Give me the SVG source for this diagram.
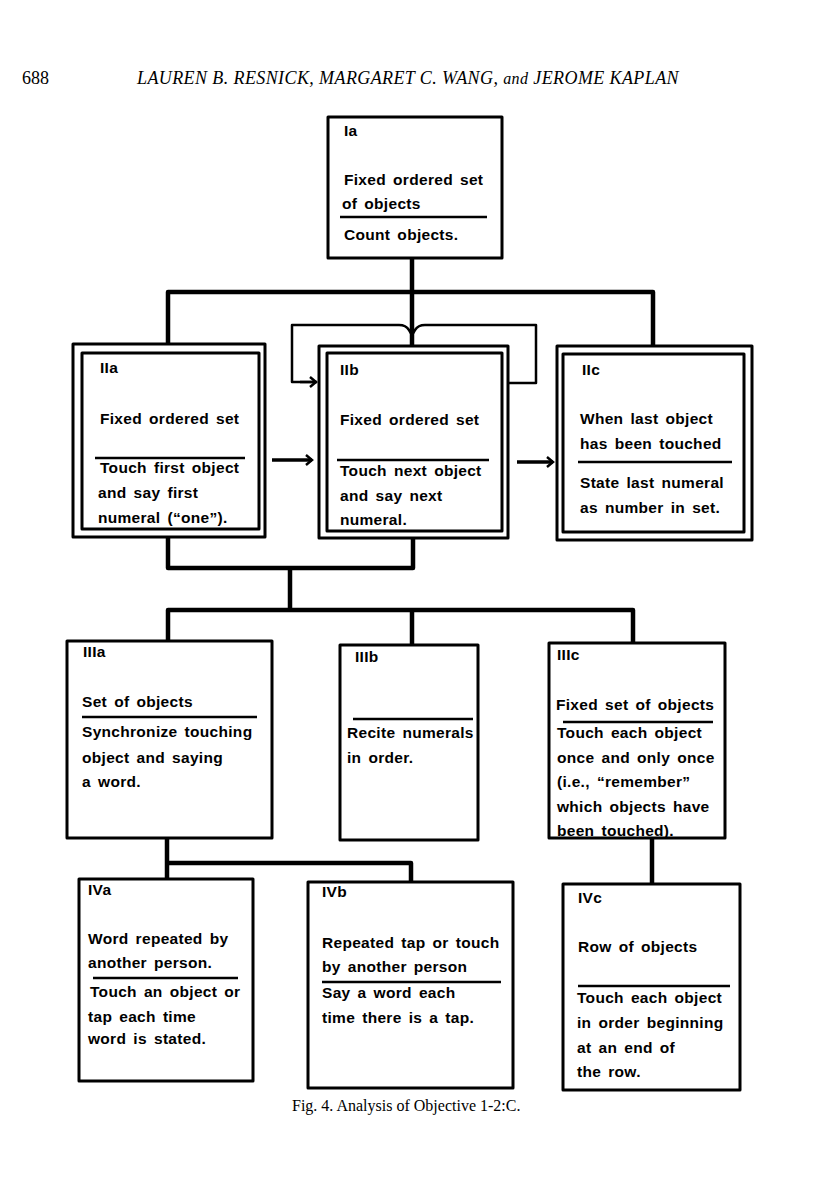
<svg xmlns="http://www.w3.org/2000/svg" width="816" height="1195" viewBox="0 0 816 1195">
<defs>
<style>
.box{fill:#fff;stroke:#000;stroke-width:3;stroke-linejoin:round}
.in{fill:none;stroke:#000;stroke-width:3;stroke-linejoin:round}
.div{stroke:#000;stroke-width:2.5}
.t{font-family:"Liberation Sans",Arial,sans-serif;font-weight:bold;font-size:15.5px;letter-spacing:0.3px;word-spacing:2.5px;fill:#000}
.con{fill:none;stroke:#000;stroke-width:4.5;stroke-linejoin:round}
.loop{fill:none;stroke:#000;stroke-width:2.5;stroke-linejoin:round}
.arr{fill:none;stroke:#000;stroke-width:3.5}
.hdr{font-family:"Liberation Serif","Times New Roman",serif;font-size:18px;fill:#000}
.cap{font-family:"Liberation Serif","Times New Roman",serif;font-size:16px;fill:#000}
</style>
<marker id="ah" viewBox="0 0 10 12" refX="8" refY="6" markerWidth="10" markerHeight="12" markerUnits="userSpaceOnUse" orient="auto">
<path d="M2,1 L8,6 L2,11" fill="none" stroke="#000" stroke-width="2.5"/>
</marker>
</defs>
<rect width="816" height="1195" fill="#fff"/>
<text class="hdr" x="22" y="84">688</text>
<text class="hdr" x="137" y="84" font-style="italic" letter-spacing="0.4">LAUREN B. RESNICK, MARGARET C. WANG, <tspan font-size="16">and</tspan> JEROME KAPLAN</text>

<g id="connectors">
<path class="con" d="M412,258 V346"/>
<path class="con" d="M168,345 V292 H653 V346"/>
<path class="loop" d="M317,382 H292 V325 H399 Q406,325 409,330 L412,335 L415,330 Q418,325 425,325 H536 V383 H508"/>
<path class="loop" d="M300,382 H316" marker-end="url(#ah)"/>
<path class="arr" d="M272,460 H312" marker-end="url(#ah)"/>
<path class="arr" d="M517,462 H553" marker-end="url(#ah)"/>
<path class="con" d="M168,537 V568 H413 V538"/>
<path class="con" d="M290,568 V610"/>
<path class="con" d="M168,641 V610 H633 V643"/>
<path class="con" d="M412,610 V645"/>
<path class="con" d="M167,838 V879"/>
<path class="con" d="M167,863 H411 V882"/>
<path class="con" d="M652,838 V884"/>
</g>

<g id="Ia">
<rect class="box" x="328" y="117" width="174" height="141"/>
<text class="t" x="344" y="136">Ia</text>
<text class="t" x="344" y="185">Fixed ordered set</text>
<text class="t" x="342" y="209">of objects</text>
<line class="div" x1="340" y1="217" x2="487" y2="217"/>
<text class="t" x="344" y="240">Count objects.</text>
</g>

<g id="IIa">
<rect class="box" x="73" y="344" width="192" height="193"/>
<rect class="in" x="82" y="353" width="177" height="176"/>
<text class="t" x="100" y="373">IIa</text>
<text class="t" x="100" y="424">Fixed ordered set</text>
<line class="div" x1="95" y1="458" x2="245" y2="458"/>
<text class="t" x="100" y="473">Touch first object</text>
<text class="t" x="98" y="498">and say first</text>
<text class="t" x="98" y="523">numeral (“one”).</text>
</g>

<g id="IIb">
<rect class="box" x="319" y="346" width="189" height="192"/>
<rect class="in" x="327" y="353" width="175" height="178"/>
<text class="t" x="340" y="375">IIb</text>
<text class="t" x="340" y="425">Fixed ordered set</text>
<line class="div" x1="337" y1="460" x2="489" y2="460"/>
<text class="t" x="340" y="476">Touch next object</text>
<text class="t" x="340" y="501">and say next</text>
<text class="t" x="340" y="525">numeral.</text>
</g>

<g id="IIc">
<rect class="box" x="557" y="346" width="195" height="194"/>
<rect class="in" x="563" y="354" width="181" height="178"/>
<text class="t" x="582" y="375">IIc</text>
<text class="t" x="580" y="424">When last object</text>
<text class="t" x="580" y="449">has been touched</text>
<line class="div" x1="578" y1="462" x2="732" y2="462"/>
<text class="t" x="580" y="488">State last numeral</text>
<text class="t" x="580" y="513">as number in set.</text>
</g>

<g id="IIIa">
<rect class="box" x="67" y="641" width="205" height="197"/>
<text class="t" x="83" y="657">IIIa</text>
<text class="t" x="82" y="707">Set of objects</text>
<line class="div" x1="82" y1="717" x2="257" y2="717"/>
<text class="t" x="82" y="737">Synchronize touching</text>
<text class="t" x="82" y="763">object and saying</text>
<text class="t" x="82" y="787">a word.</text>
</g>

<g id="IIIb">
<rect class="box" x="340" y="645" width="138" height="195"/>
<text class="t" x="355" y="662">IIIb</text>
<line class="div" x1="353" y1="719" x2="473" y2="719"/>
<text class="t" x="347" y="738">Recite numerals</text>
<text class="t" x="347" y="763">in order.</text>
</g>

<g id="IIIc">
<rect class="box" x="549" y="643" width="176" height="195"/>
<text class="t" x="557" y="660">IIIc</text>
<text class="t" x="556" y="710">Fixed set of objects</text>
<line class="div" x1="563" y1="722" x2="713" y2="722"/>
<text class="t" x="557" y="738">Touch each object</text>
<text class="t" x="557" y="763">once and only once</text>
<text class="t" x="557" y="787">(i.e., “remember”</text>
<text class="t" x="557" y="812">which objects have</text>
<text class="t" x="557" y="836">been touched).</text>
</g>

<g id="IVa">
<rect class="box" x="79" y="879" width="174" height="202"/>
<text class="t" x="88" y="895">IVa</text>
<text class="t" x="88" y="944">Word repeated by</text>
<text class="t" x="88" y="968">another person.</text>
<line class="div" x1="93" y1="978" x2="238" y2="978"/>
<text class="t" x="90" y="997">Touch an object or</text>
<text class="t" x="88" y="1022">tap each time</text>
<text class="t" x="88" y="1044">word is stated.</text>
</g>

<g id="IVb">
<rect class="box" x="308" y="882" width="205" height="206"/>
<text class="t" x="322" y="897">IVb</text>
<text class="t" x="322" y="948">Repeated tap or touch</text>
<text class="t" x="322" y="972">by another person</text>
<line class="div" x1="322" y1="982" x2="501" y2="982"/>
<text class="t" x="322" y="998">Say a word each</text>
<text class="t" x="322" y="1023">time there is a tap.</text>
</g>

<g id="IVc">
<rect class="box" x="563" y="884" width="177" height="206"/>
<text class="t" x="578" y="903">IVc</text>
<text class="t" x="578" y="952">Row of objects</text>
<line class="div" x1="578" y1="986" x2="730" y2="986"/>
<text class="t" x="577" y="1003">Touch each object</text>
<text class="t" x="577" y="1028">in order beginning</text>
<text class="t" x="577" y="1053">at an end of</text>
<text class="t" x="577" y="1077">the row.</text>
</g>

<text class="cap" x="292" y="1111">Fig. 4. Analysis of Objective 1-2:C.</text>
</svg>
